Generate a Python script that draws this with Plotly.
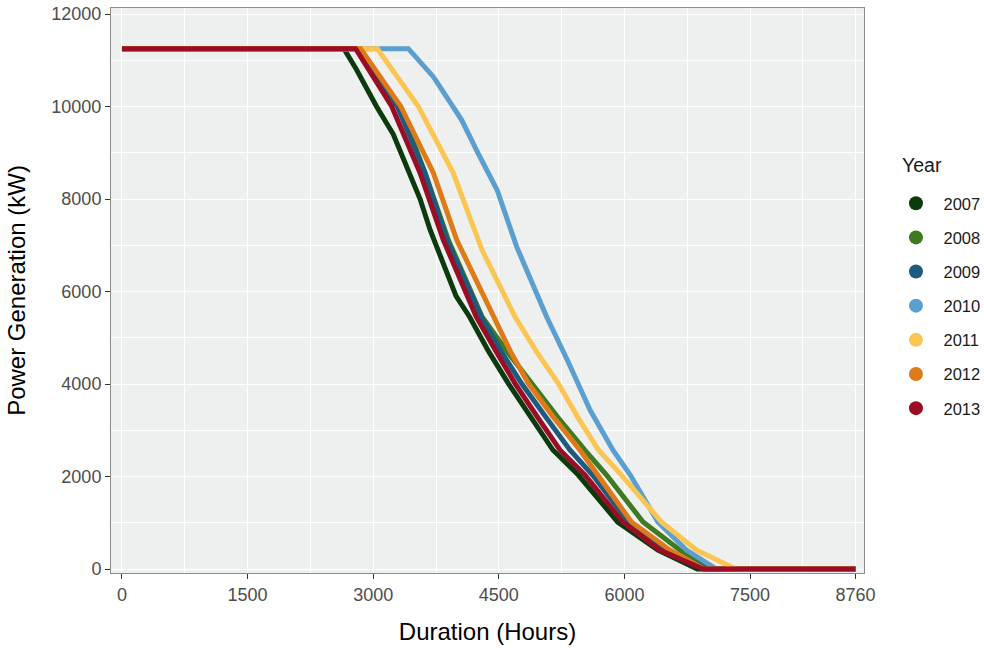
import plotly.graph_objects as go

years = ["2007", "2008", "2009", "2010", "2011", "2012", "2013"]
colors = ["#0B3A0E", "#3D7A22", "#1D5A80", "#5B9FCF", "#FBC552", "#DE7A18", "#9A0D25"]

hours_2007 = [0, 2650, 2800, 3040, 3240, 3426, 3560, 3680, 3990, 4150, 4380, 4613, 4880, 5146, 5450, 5920, 6400, 6870, 8760]
kw_2007 = [11250, 11250, 10800, 10000, 9400, 8562, 8000, 7330, 5900, 5455, 4700, 4015, 3290, 2573, 2032, 1016, 411, 0, 0]

hours_2008 = [0, 2830, 3321, 3620, 3898, 4300, 4600, 4892, 5200, 5528, 5787, 6223, 6661, 7050, 8760]
kw_2008 = [11250, 11250, 10000, 8562, 7114, 5455, 4700, 4015, 3290, 2573, 2032, 1016, 411, 0, 0]

hours_2009 = [0, 2830, 3290, 3620, 3880, 4290, 4530, 4770, 5060, 5349, 5620, 6050, 6500, 6980, 8760]
kw_2009 = [11250, 11250, 10000, 8562, 7114, 5455, 4700, 4015, 3290, 2573, 2032, 1016, 411, 0, 0]

hours_2010 = [0, 3420, 3720, 4057, 4250, 4480, 4713, 4900, 5071, 5318, 5450, 5590, 5862, 6070, 6400, 6741, 7100, 8760]
kw_2010 = [11250, 11250, 10640, 9708, 9000, 8195, 6970, 6200, 5455, 4519, 4015, 3438, 2573, 2032, 1016, 411, 0, 0]

hours_2011 = [0, 3050, 3540, 3957, 4077, 4255, 4300, 4693, 4950, 5209, 5440, 5690, 5965, 6442, 6860, 7330, 8760]
kw_2011 = [11250, 11250, 10000, 8562, 7978, 7114, 6897, 5455, 4700, 4015, 3290, 2573, 2032, 1016, 411, 0, 0]

hours_2012 = [0, 2850, 3330, 3719, 3998, 4434, 4640, 4852, 5150, 5468, 5686, 6084, 6541, 6950, 8760]
kw_2012 = [11250, 11250, 10000, 8562, 7114, 5455, 4700, 4015, 3290, 2573, 2032, 1016, 411, 0, 0]

hours_2013 = [0, 2790, 3222, 3560, 3838, 4230, 4470, 4693, 4960, 5230, 5528, 5982, 6422, 6940, 8760]
kw_2013 = [11250, 11250, 10000, 8562, 7114, 5455, 4700, 4015, 3290, 2573, 2032, 1016, 411, 0, 0]

x_ticks = [0, 1500, 3000, 4500, 6000, 7500, 8760]
x_minor = [750, 2250, 3750, 5250, 6750, 8130]
y_ticks = [0, 2000, 4000, 6000, 8000, 10000, 12000]
y_minor = [1000, 3000, 5000, 7000, 9000, 11000]

series_x = [hours_2007, hours_2008, hours_2009, hours_2010, hours_2011, hours_2012, hours_2013]
series_y = [kw_2007, kw_2008, kw_2009, kw_2010, kw_2011, kw_2012, kw_2013]

FONT = "Liberation Sans, Arial, sans-serif"
L, R, T, B = 110.5, 119.5, 8, 75
PW, PH = 984 - L - R, 648 - T - B

fig = go.Figure()
for yr, col, xs, ys in zip(years, colors, series_x, series_y):
    fig.add_trace(go.Scatter(x=xs, y=ys, mode="lines", name=yr,
                             line=dict(color=col, width=5),
                             showlegend=False, hoverinfo="skip"))
for yr, col in zip(years, colors):
    fig.add_trace(go.Scatter(x=[None], y=[None], mode="markers", name=yr,
                             legendgroup=yr,
                             marker=dict(color=col, size=14)))

fig.update_layout(
    width=984, height=648,
    margin=dict(l=L, r=R, t=T, b=B, autoexpand=False),
    paper_bgcolor="white",
    plot_bgcolor="#EEEFEF",
    font=dict(family=FONT, color="#4D4D4D"),
    legend=dict(
        x=(889 - L) / PW, y=(573 - 186) / PH, xanchor="left", yanchor="top",
        font=dict(size=16.5, color="#1a1a1a", family=FONT),
        tracegroupgap=9.7,
        itemwidth=45,
        bgcolor="rgba(0,0,0,0)",
    ),
    annotations=[dict(text="Year", xref="paper", yref="paper",
                      x=(901 - L) / PW, y=(573 - 165) / PH,
                      xanchor="left", yanchor="middle", showarrow=False,
                      font=dict(size=19.5, color="#1a1a1a", family=FONT))],
)

fig.update_xaxes(
    range=[-131, 8861], tickmode="array", tickvals=x_ticks,
    ticktext=[str(v) for v in x_ticks], automargin=False,
    showgrid=True, gridcolor="white", gridwidth=1.2,
    zeroline=False, ticks="outside", ticklen=5, tickcolor="#333333",
    tickfont=dict(size=18, color="#4D4D4D"),
    showline=True, mirror=True, linecolor="#8C8C8C", linewidth=1,
    minor=dict(tickvals=x_minor, showgrid=True, gridcolor="white", gridwidth=0.6, ticks=""),
    title=dict(text="Duration (Hours)", font=dict(size=24, color="#000000"), standoff=19),
)
fig.update_yaxes(
    range=[-86, 12130], tickmode="array", tickvals=y_ticks,
    ticktext=[str(v) for v in y_ticks], automargin=False,
    showgrid=True, gridcolor="white", gridwidth=1.2,
    zeroline=False, ticks="outside", ticklen=5, tickcolor="#333333",
    tickfont=dict(size=18, color="#4D4D4D"),
    showline=True, mirror=True, linecolor="#8C8C8C", linewidth=1,
    minor=dict(tickvals=y_minor, showgrid=True, gridcolor="white", gridwidth=0.6, ticks=""),
    title=dict(text="Power Generation (kW)", font=dict(size=24, color="#000000"), standoff=18),
)

fig.write_html("out.html")
